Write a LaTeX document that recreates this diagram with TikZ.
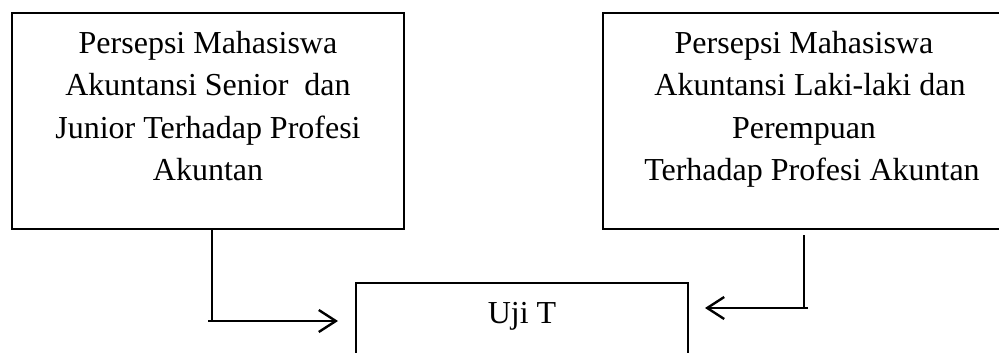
\documentclass[tikz,border=0pt]{standalone}
\usepackage{fontspec}
\setmainfont{Liberation Serif}
\usetikzlibrary{arrows.meta}
\begin{document}
\begin{tikzpicture}[x=1pt,y=-1pt,
  boxnode/.style={draw, line width=2.6pt, rectangle, inner sep=0pt},
  txt/.style={font=\fontsize{32}{42.4}\selectfont, align=center, inner sep=0pt, anchor=base},
  conn/.style={line width=2pt},
  arr/.style={line width=2pt, -{Straight Barb[length=17pt,width=22pt,line width=2.4pt]}}]
\useasboundingbox (0,0) rectangle (999,353);
% boxes
\node[boxnode, minimum width=392pt, minimum height=216pt] (L) at (208,121) {};
\node[boxnode, minimum width=398pt, minimum height=216pt] (R) at (802,121) {};
\node[boxnode, minimum width=332pt, minimum height=140pt] (U) at (522,353) {};
% texts (base anchor = baseline of last line)
\node[txt] (Lt) at (208,180.5) {Persepsi Mahasiswa\\ Akuntansi Senior\ \ dan\\ Junior Terhadap Profesi\\ Akuntan};
\node[txt] (Rt) at (804,180.5) {Persepsi Mahasiswa\\ \hspace*{12pt}Akuntansi Laki-laki dan\\ Perempuan\\ \hspace*{16pt}Terhadap Profesi Akuntan};
\node[txt] (Ut) at (522,323) {Uji T};
% connector coordinates
\coordinate (la) at (212,229);
\coordinate (lb) at (212,321);
\coordinate (lc) at (208,321);
\coordinate (ld) at (338,321);
\coordinate (ra) at (804,235);
\coordinate (rb) at (804,308);
\coordinate (rc) at (808,308);
\coordinate (rd) at (705,308);
\draw[conn] (la) -- (lb);
\draw[arr] (lc) -- (ld);
\draw[conn] (ra) -- (rb);
\draw[arr] (rc) -- (rd);
\end{tikzpicture}
\end{document}
